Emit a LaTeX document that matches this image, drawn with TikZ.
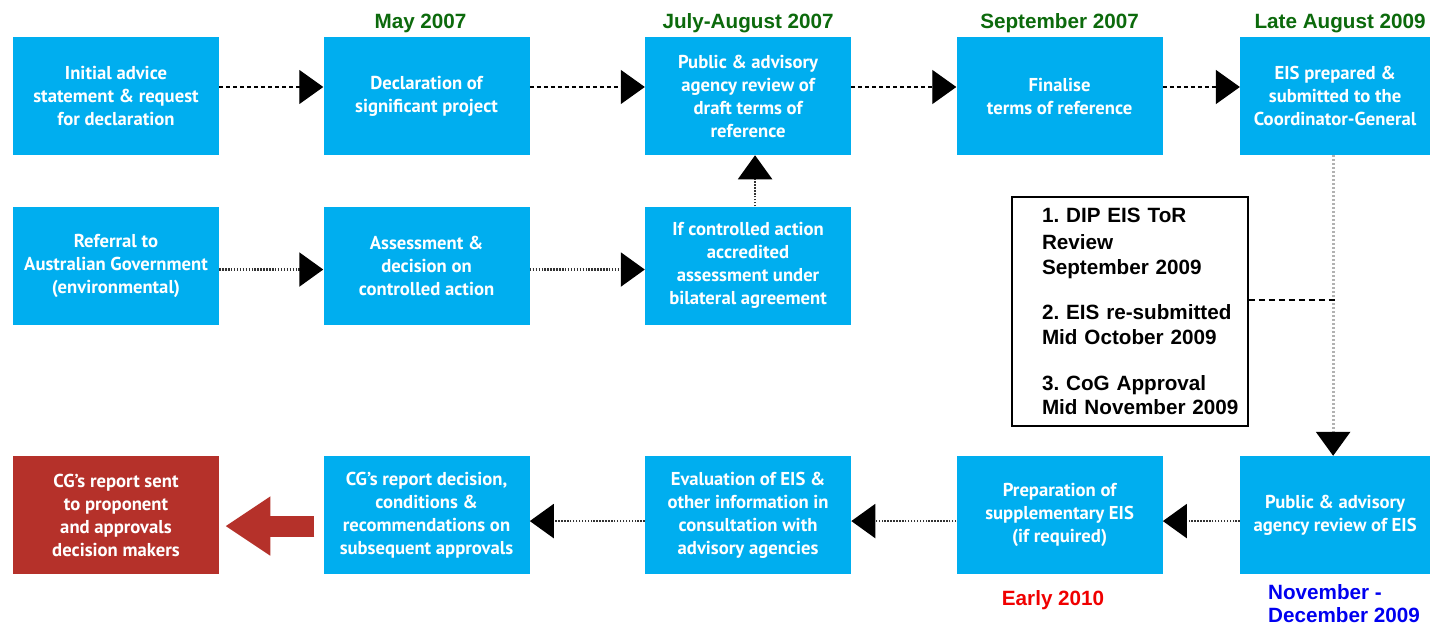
\documentclass[tikz,border=0pt]{standalone}
\usepackage{fontspec}
\setmainfont{Liberation Sans}
\newfontfamily\stagefont{PT Sans}
\usetikzlibrary{positioning, arrows.meta}
\definecolor{stageblue}{RGB}{0,174,239}
\definecolor{reportred}{RGB}{181,49,42}
\definecolor{dategreen}{RGB}{12,106,12}
\definecolor{daterred}{RGB}{240,0,0}
\definecolor{dateblue}{RGB}{0,0,240}
\tikzset{
    >={Triangle[length=18pt,width=25.5pt,color=black]}, % big black heads
    stage/.style={fill=stageblue, text=white, minimum width=154.5pt, minimum height=88.5pt, inner sep=2pt, align=center, font=\stagefont\bfseries\fontsize{14}{17.25}\selectfont}, % blue process box
    datelabel/.style={inner sep=0pt, font=\bfseries\fontsize{15.5}{17.25}\selectfont}, % dates round the boxes
    notebox/.style={draw, line width=1.1pt, minimum width=177pt, minimum height=171.75pt, text width=170pt, inner xsep=3.5pt, align=left, font=\bfseries\fontsize{15.5}{18.4}\selectfont}, % the framed note
    dashflow/.style={->, line width=0.9pt, dash pattern=on 3pt off 2.25pt}, % top row
    dotflow/.style={->, line width=1.7pt, black!80, dash pattern=on 1.1pt off 1.1pt}, % middle and low rows
    greyflow/.style={->, line width=2.2pt, gray!60, dash pattern=on 1.5pt off 1.5pt}, % down the right side
    notelink/.style={line width=1.1pt, dash pattern=on 4.5pt off 3pt}, % note to the down line
    bigflow/.style={-{Triangle[length=33.75pt,width=42pt]}, line width=15.75pt, reportred}, % the red one
}
\begin{document}
\begin{tikzpicture}
\fill[white] (0,0) rectangle (1074pt,-470.25pt);
\useasboundingbox (0,0) rectangle (1074pt,-470.25pt);
% top row
\node[stage] (t1) at (87pt,-72pt) {Initial advice\\statement \& request\\for declaration};
\node[stage, right=78pt of t1] (t2) {Declaration of\\significant project};
\node[stage, right=86.25pt of t2] (t3) {Public \& advisory\\agency review of\\draft terms of\\reference};
\node[stage, right=78.75pt of t3] (t4) {Finalise\\terms of reference};
\node[stage, minimum width=142.5pt, right=57.75pt of t4] (t5) {EIS prepared \&\\submitted to the\\Coordinator-General};
% middle row
\node[stage, below=38.25pt of t1] (m1) {Referral to\\Australian Government\\(environmental)};
\node[stage, below=38.25pt of t2] (m2) {Assessment \&\\decision on\\controlled action};
\node[stage, below=38.25pt of t3] (m3) {If controlled action\\accredited\\assessment under\\bilateral agreement};
% low row
\node[stage, fill=reportred, below=98.25pt of m1] (l1) {CG’s report sent\\to proponent\\and approvals\\decision makers};
\node[stage, below=98.25pt of m2] (l2) {CG’s report decision,\\conditions \&\\recommendations on\\subsequent approvals};
\node[stage, below=98.25pt of m3] (l3) {Evaluation of EIS \&\\other information in\\consultation with\\advisory agencies};
\node[stage, right=78.75pt of l3] (l4) {Preparation of\\supplementary EIS\\(if required)};
\node[stage, minimum width=142.5pt, right=57.75pt of l4] (l5) {Public \& advisory\\agency review of EIS};
% dates
\node[datelabel, text=dategreen, anchor=base] (d2) at ([xshift=-4.5pt,yshift=6.4pt]t2.north) {May 2007};
\node[datelabel, text=dategreen, anchor=base] (d3) at ([yshift=6.4pt]t3.north) {July-August 2007};
\node[datelabel, text=dategreen, anchor=base] (d4) at ([yshift=6.4pt]t4.north) {September 2007};
\node[datelabel, text=dategreen, anchor=base] (d5) at ([xshift=3.75pt,yshift=6.4pt]t5.north) {Late August 2009};
\node[datelabel, text=daterred, anchor=base] (d6) at ([xshift=-4.9pt,yshift=-23.25pt]l4.south) {Early 2010};
\node[datelabel, text=dateblue, align=left, anchor=base west] (d7) at ([xshift=21pt,yshift=-36pt]l5.south west) {November -\\December 2009};
% note
\node[notebox] (note) at (847.5pt,-233.6pt) {\frenchspacing\leftskip=19pt 1. DIP EIS ToR\\[2pt] Review\\ September 2009\\[16pt] 2. EIS re-submitted\\ Mid October 2009\\[16pt] 3. CoG Approval\\ Mid November 2009\par};
\coordinate (tie) at ([yshift=8.6pt]note.east);
% connectors
\draw[dashflow] ([yshift=6.75pt]t1.east) -- ([yshift=6.75pt]t2.west);
\draw[dashflow] ([yshift=6.75pt]t2.east) -- ([yshift=6.75pt]t3.west);
\draw[dashflow] ([yshift=6.75pt]t3.east) -- ([yshift=6.75pt]t4.west);
\draw[dashflow] ([yshift=6.75pt]t4.east) -- ([yshift=6.75pt]t5.west);
\draw[dotflow] ([yshift=-3pt]m1.east) -- ([yshift=-3pt]m2.west);
\draw[dotflow] ([yshift=-3pt]m2.east) -- ([yshift=-3pt]m3.west);
\draw[dotflow] ([xshift=5.25pt]m3.north) -- ([xshift=5.25pt]t3.south);
\draw[greyflow] ([xshift=-1.5pt]t5.south) -- ([xshift=-1.5pt]l5.north);
\draw[notelink] (tie) -- (tie -| t5.south);
\draw[dotflow] ([yshift=-4.5pt]l5.west) -- ([yshift=-4.5pt]l4.east);
\draw[dotflow] ([yshift=-4.5pt]l4.west) -- ([yshift=-4.5pt]l3.east);
\draw[dotflow] ([yshift=-4.5pt]l3.west) -- ([yshift=-4.5pt]l2.east);
\draw[bigflow, shorten <=6.75pt, shorten >=4.5pt] ([yshift=-8.25pt]l2.west) -- ([yshift=-8.25pt]l1.east);
\end{tikzpicture}
\end{document}
